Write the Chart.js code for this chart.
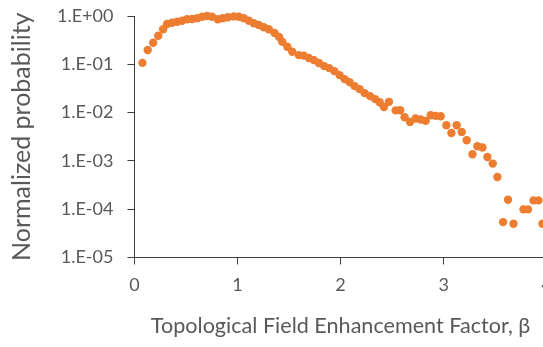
<!DOCTYPE html>
<html>
<head>
<meta charset="utf-8">
<script src="https://cdn.jsdelivr.net/npm/chart.js@4.4.0/dist/chart.umd.min.js"></script>
<style>
  html, body { margin: 0; padding: 0; background: #fff; overflow: hidden; }
  #wrap { width: 543px; height: 347px; overflow: hidden; position: relative; }
  #box { width: 562px; height: 347px; position: absolute; left: 0; top: 0; }
</style>
</head>
<body>
<div id="wrap"><div id="box"><canvas id="c"></canvas></div></div>
<script>
// Topological field enhancement factor (beta)
const beta = [
  0.078, 0.129, 0.182, 0.231, 0.279, 0.317, 0.366, 0.415, 0.463, 0.512,
  0.560, 0.609, 0.657, 0.706, 0.754, 0.809, 0.857, 0.906, 0.964, 1.013,
  1.061, 1.110, 1.158, 1.207, 1.255, 1.304, 1.359, 1.403, 1.434, 1.483,
  1.531, 1.595, 1.644, 1.692, 1.741, 1.789, 1.840, 1.889, 1.940, 1.990,
  2.039, 2.087, 2.136, 2.184, 2.233, 2.286, 2.335, 2.379, 2.420, 2.469,
  2.534, 2.578, 2.621, 2.673, 2.728, 2.777, 2.825, 2.874, 2.922, 2.971,
  3.026, 3.075, 3.126, 3.175, 3.223, 3.279, 3.327, 3.376, 3.424, 3.476,
  3.521, 3.576, 3.624, 3.677, 3.774, 3.818, 3.871, 3.919, 3.958
];
// Normalized probability
const probability = [
  0.107, 0.197, 0.279, 0.390, 0.530, 0.682, 0.726, 0.762, 0.799, 0.855,
  0.867, 0.896, 0.967, 1.000, 0.967, 0.855, 0.896, 0.940, 0.980, 0.967,
  0.896, 0.799, 0.706, 0.651, 0.583, 0.530, 0.444, 0.367, 0.293, 0.231,
  0.182, 0.155, 0.151, 0.135, 0.122, 0.106, 0.0918, 0.0834, 0.0722, 0.0597,
  0.0493, 0.0427, 0.0353, 0.0306, 0.0253, 0.0219, 0.0190, 0.0164, 0.0131, 0.0167,
  0.0111, 0.0112, 0.00803, 0.00641, 0.00755, 0.00719, 0.00673, 0.00883, 0.00855, 0.00842,
  0.00548, 0.00379, 0.00548, 0.00398, 0.00268, 0.00137, 0.00201, 0.00189, 0.00120, 0.000879,
  0.000463, 0.0000540, 0.000157, 0.0000500, 0.0000991, 0.0000991, 0.000152, 0.000152, 0.0000500
];
// Tick labels
const yTickValues = [1, 0.1, 0.01, 0.001, 0.0001, 0.00001];
const yTickLabels = ["1.E+00", "1.E-01", "1.E-02", "1.E-03", "1.E-04", "1.E-05"];
const xTickValues = [0, 1, 2, 3, 4];

const xTitle = "Topological Field Enhancement Factor, \u03B2";
const yTitle = "Normalized probability";

const points = beta.map((b, i) => ({ x: b, y: probability[i] }));
const textColor = "#595959";
const fontFamily = "Lato, 'Open Sans', sans-serif";

new Chart(document.getElementById("c"), {
  type: "scatter",
  data: {
    datasets: [{
      data: points,
      backgroundColor: "#ED7D31",
      borderColor: "#ED7D31",
      borderWidth: 0,
      pointRadius: 4.2,
      pointHoverRadius: 4.2,
      clip: false
    }]
  },
  options: {
    responsive: true,
    maintainAspectRatio: false,
    animation: false,
    events: [],
    layout: { padding: { top: 0, right: 0, bottom: 8, left: 7 } },
    plugins: { legend: { display: false }, tooltip: { enabled: false } },
    scales: {
      x: {
        type: "linear",
        min: 0,
        max: 4,
        afterBuildTicks: (axis) => { axis.ticks = xTickValues.map(v => ({ value: v })); },
        grid: { display: true, drawOnChartArea: false, drawTicks: true, tickLength: 7, color: "#404040", lineWidth: 1 },
        border: { display: true, color: "#404040", width: 1 },
        ticks: { color: textColor, font: { family: fontFamily, size: 18 }, padding: 10, maxRotation: 0 },
        title: { display: true, text: xTitle, color: textColor, font: { family: fontFamily, size: 21.6 }, padding: { top: 7, bottom: 0 } }
      },
      y: {
        type: "logarithmic",
        min: 0.00001,
        max: 1,
        afterBuildTicks: (axis) => { axis.ticks = yTickValues.map(v => ({ value: v })); },
        afterFit: (axis) => { axis.paddingTop = 16; },
        grid: { display: true, drawOnChartArea: false, drawTicks: true, tickLength: 7, color: "#404040", lineWidth: 1 },
        border: { display: true, color: "#404040", width: 1 },
        ticks: {
          color: textColor,
          font: { family: fontFamily, size: 18 },
          padding: 14,
          callback: (v) => { const i = yTickValues.findIndex(t => Math.abs(Math.log10(t) - Math.log10(v)) < 1e-6); return i >= 0 ? yTickLabels[i] : ""; }
        },
        title: { display: true, text: yTitle, color: textColor, font: { family: fontFamily, size: 25 }, padding: { top: 0, bottom: 6 } }
      }
    }
  }
});
</script>
</body>
</html>
